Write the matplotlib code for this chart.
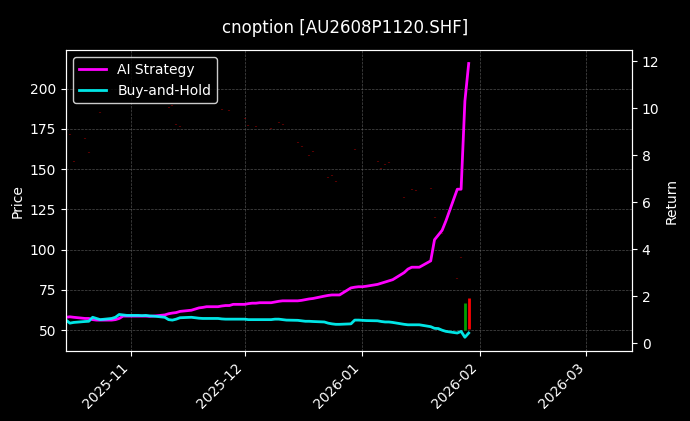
import numpy as np
import pandas as pd
import matplotlib
matplotlib.use("Agg")
import matplotlib.pyplot as plt
import matplotlib.dates as mdates

plt.style.use("dark_background")

# return series, business days 2025-10-15 .. 2026-01-29
dates = pd.bdate_range("2025-10-15", "2026-01-29")
ai_strategy = [
    1.1, 1.12, 1.1,
    1.05, 1.05, 1.0, 0.98, 0.98,
    0.98, 1.0, 1.05, 1.15, 1.15,
    1.15, 1.15, 1.15, 1.14, 1.15,
    1.2, 1.25, 1.28, 1.3, 1.35,
    1.4, 1.45, 1.5, 1.52, 1.55,
    1.55, 1.58, 1.6, 1.6, 1.65,
    1.65, 1.68, 1.7, 1.7, 1.72,
    1.72, 1.75, 1.78, 1.8, 1.8,
    1.8, 1.82, 1.85, 1.88, 1.9,
    2.0, 2.03, 2.05, 2.05, 2.05,
    2.35, 2.38, 2.4, 2.4, 2.42,
    2.5, 2.55, 2.6, 2.65, 2.7,
    3.0, 3.15, 3.23, 3.23, 3.23,
    3.5, 4.4, 4.6, 4.8, 5.2,
    6.55, 6.55, 10.3, 11.9,
]
buy_hold = [
    0.98, 0.85, 0.88,
    0.92, 0.93, 1.1, 1.05, 1.0,
    1.05, 1.1, 1.22, 1.2, 1.18,
    1.18, 1.17, 1.18, 1.16, 1.15,
    1.1, 1.0, 0.98, 1.02, 1.08,
    1.1, 1.08, 1.06, 1.05, 1.05,
    1.05, 1.03, 1.02, 1.02, 1.02,
    1.02, 1.0, 1.0, 1.0, 1.0,
    1.0, 1.02, 1.02, 1.0, 0.98,
    0.97, 0.95, 0.93, 0.93, 0.92,
    0.9, 0.85, 0.82, 0.8, 0.8,
    0.82, 0.98, 0.98, 0.97, 0.96,
    0.95, 0.92, 0.9, 0.9, 0.88,
    0.8, 0.78, 0.78, 0.78, 0.78,
    0.7, 0.63, 0.62, 0.55, 0.5,
    0.43, 0.5, 0.25, 0.43,
]

# option price (sparse trades)
price_dates = pd.to_datetime([
    "2025-10-16", "2025-10-17", "2025-10-20", "2025-10-21", "2025-10-24",
    "2025-11-11", "2025-11-12", "2025-11-13", "2025-11-14", "2025-11-25",
    "2025-11-27", "2025-12-01", "2025-12-02", "2025-12-04", "2025-12-08",
    "2025-12-10", "2025-12-11", "2025-12-15", "2025-12-16", "2025-12-18",
    "2025-12-19", "2025-12-23", "2025-12-24", "2025-12-25", "2025-12-29",
    "2025-12-30", "2026-01-05", "2026-01-06", "2026-01-07", "2026-01-08",
    "2026-01-12", "2026-01-14", "2026-01-15", "2026-01-19", "2026-01-20",
    "2026-01-22", "2026-01-26", "2026-01-27", "2026-01-28", "2026-01-29",
])
price_open = [
    171, 154.5, 169, 160, 185, 188, 189, 177.6, 176, 187,
    186, 181, 177, 176, 175, 179, 177.6, 166, 164, 158,
    161, 144.6, 146, 142, 143, 162, 154.5, 150, 152.7, 154,
    132, 137, 136.5, 138, 119.7, 110, 81.7, 94.8, 50, 70,
]
price_close = [
    171.6, 155, 169.6, 160.6, 185.6, 188.6, 189.6, 178.2, 176.6, 187.6,
    186.6, 181.6, 177.6, 176.6, 175.6, 179.6, 178.2, 166.6, 164.6, 158.6,
    161.6, 145.2, 146.6, 142.6, 143.6, 162.6, 155.1, 150.6, 153.3, 154.6,
    132.6, 137.6, 137.1, 138.6, 120.3, 110.6, 82.3, 95.4, 67, 51,
]

fig, ax = plt.subplots(figsize=(6.9, 4.21), dpi=100)
fig.subplots_adjust(left=0.0957, right=0.916, top=0.881, bottom=0.166)
fig.suptitle("cnoption [AU2608P1120.SHF]", y=0.955, fontsize=12)

for d, o, c in zip(price_dates, price_open, price_close):
    big = abs(c - o) > 5
    if big:
        col = "#00a000" if c >= o else "#ff0000"
        ax.vlines(d, min(o, c), max(o, c), color=col, lw=2)
    else:
        ax.vlines(d, min(o, c), max(o, c), color="#b00000", lw=1.5, alpha=0.5)
ax.set_ylabel("Price")
ax.set_ylim(37, 224)
ax.set_xlim(pd.Timestamp("2025-10-15"), pd.Timestamp("2026-03-13"))
ax.grid(True, color="gray", linestyle="--", linewidth=0.5, alpha=0.6)

ax2 = ax.twinx()
ax2.plot(dates, ai_strategy, color="#ff00ff", lw=2, label="AI Strategy")
ax2.plot(dates, buy_hold, color="#00ffff", lw=2, alpha=0.9, label="Buy-and-Hold")
ax2.set_ylim(-0.34, 12.47)
ax2.set_ylabel("Return")
ax2.legend(loc="upper left", facecolor="black", edgecolor="white")

ax.xaxis.set_major_locator(mdates.MonthLocator())
ax.xaxis.set_major_formatter(mdates.DateFormatter("%Y-%m"))
plt.setp(ax.get_xticklabels(), rotation=45, ha="right")

fig.savefig("out.png", facecolor="black")
